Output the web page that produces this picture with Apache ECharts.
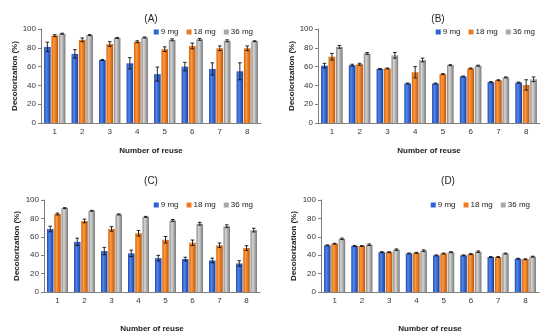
<!DOCTYPE html>
<html><head><meta charset="utf-8">
<script src="https://cdn.jsdelivr.net/npm/echarts@6/dist/echarts.min.js"></script>
<style>html,body{margin:0;padding:0;background:#fff}#c{width:554px;height:334px}</style>
</head><body><div id="c"></div>
<script>
var categories = ['1','2','3','4','5','6','7','8'];
var seriesNames = ['9 mg','18 mg','36 mg'];
var panelTitles = ['(A)','(B)','(C)','(D)'];
var yTicks = [0,20,40,60,80,100];

var A9  = [81,73.5,67,63.5,52,60,57.5,55];
var A9e = [5,4.5,0.5,6,7.5,4.5,6.5,9];
var A18 = [93,88.5,84,86.5,78.5,82,79.5,79.5];
var A18e= [1,2,2.5,1,2.5,3,2.5,2.5];
var A36 = [95,93.5,90.5,91,88.5,89,87.5,87];
var A36e= [0.5,0.5,0.5,0.5,1,1,1,0.5];

var B9  = [61,61.5,57.5,42,42,49.5,43.5,43];
var B9e = [2.5,1,0.5,0.5,0.5,0.5,0.5,0.5];
var B18 = [70.5,62.5,58,54,52,58,45.5,40.5];
var B18e= [3.5,1,0.5,6,0.5,0.5,0.5,5.5];
var B36 = [81,74,72,67,61.5,61,48.5,46.5];
var B36e= [1.5,1,3,2,0.5,0.5,0.5,2.5];

var C9  = [68.5,54.5,44.5,42,36.8,35.8,34.3,31];
var C9e = [3,4,4,3.5,3,2,2.5,3];
var C18 = [84.8,77.2,68.6,63.8,56.8,53.5,50.8,47.8];
var C18e= [1,2,2.5,3,3.5,3,2.5,2.5];
var C36 = [91.2,88.3,84.3,81.7,77.8,74.2,71.5,67.3];
var C36e= [0.5,0.5,0.5,0.5,1,1.5,1.5,2];

var D9  = [50.7,50,43.3,41.9,39.8,39.8,38,36.2];
var D9e = [0.5,0.5,0.5,0.5,0.5,0.5,0.5,0.5];
var D18 = [52.5,50,43.3,42.6,41.8,41.2,38,35.6];
var D18e= [0.5,0.5,0.5,0.5,0.5,0.5,0.5,0.5];
var D36 = [57.8,51.4,46,45,43.3,43.8,41.8,38.4];
var D36e= [0.8,0.8,0.8,0.8,0.5,0.8,0.5,0.5];

var panels = [
  {vals:[A9,A18,A36], errs:[A9e,A18e,A36e]},
  {vals:[B9,B18,B36], errs:[B9e,B18e,B36e]},
  {vals:[C9,C18,C36], errs:[C9e,C18e,C36e]},
  {vals:[D9,D18,D36], errs:[D9e,D18e,D36e]}
];

var grids = [
  {left:41, top:29, width:220, height:94},
  {left:318, top:29, width:222, height:94},
  {left:44, top:200, width:216, height:95},
  {left:321, top:200, width:218, height:95}
];
var titlePos = [[146,9],[433,9],[146,171],[443,171]];
var legendPos = [[296,23],[14,23],[296,196],[19,196]];
var xNameGap = [24,24,33,33];
var yNameGap = [22,22,23,23];

function grad(c0,c1,c2){
  return new echarts.graphic.LinearGradient(0,0,1,0,[
    {offset:0,color:c0},{offset:0.35,color:c1},{offset:1,color:c2}]);
}
var fills = [
  grad('#2048A8','#4F86EE','#1C3F96'),
  grad('#D45E0A','#FF9A3C','#C0560A'),
  grad('#858585','#D6D6D6','#7A7A7A')
];
var legendColors = ['#2F62D4','#F27A1E','#A8A8A8'];

var BW = 0.24, GAP = 0.12;
var option = {
  animation:false,
  backgroundColor:'#fff',
  textStyle:{fontFamily:'Liberation Sans, Arial, sans-serif'},
  title:[], legend:[], grid:[], xAxis:[], yAxis:[], series:[]
};
panels.forEach(function(p, g){
  option.title.push({text:panelTitles[g], left:titlePos[g][0], top:titlePos[g][1],
    textAlign:'center',
    textStyle:{fontSize:10, fontWeight:'normal', color:'#222', fontFamily:'Liberation Sans, Arial, sans-serif'}});
  option.legend.push({data:seriesNames.map(function(n,k){return {name:n, itemStyle:{color:legendColors[k]}};}),
    right:legendPos[g][0], top:legendPos[g][1], width:200, orient:'horizontal',
    icon:'rect', itemWidth:5, itemHeight:5, itemGap:8,
    textStyle:{fontSize:8, color:'#222', padding:[0,0,0,-3]}, selectedMode:false});
  option.grid.push(Object.assign({containLabel:false}, grids[g]));
  option.xAxis.push({type:'category', gridIndex:g, data:categories,
    name:'Number of reuse', nameLocation:'middle', nameGap:xNameGap[g],
    nameTextStyle:{fontSize:8, fontWeight:'bold', color:'#222'},
    axisLine:{lineStyle:{color:'#7f7f7f', width:1}},
    axisTick:{alignWithLabel:true, length:3, lineStyle:{color:'#7f7f7f'}},
    axisLabel:{fontSize:8, color:'#333', margin:5}});
  option.yAxis.push({type:'value', gridIndex:g, min:0, max:100, interval:20,
    name:'Decolorization (%)', nameLocation:'middle', nameGap:yNameGap[g],
    nameTextStyle:{fontSize:8, fontWeight:'bold', color:'#222'},
    axisLine:{show:true, lineStyle:{color:'#7f7f7f', width:1}},
    axisTick:{show:true, length:3, lineStyle:{color:'#7f7f7f'}},
    splitLine:{show:false},
    axisLabel:{fontSize:8, color:'#333', margin:5}});
  p.vals.forEach(function(v, k){
    option.series.push({type:'bar', name:seriesNames[k], xAxisIndex:g, yAxisIndex:g,
      data:v, barWidth:(BW*100)+'%', barGap:(GAP*100)+'%',
      itemStyle:{color:fills[k]}});
  });
  p.vals.forEach(function(v, k){
    var errs = p.errs[k];
    option.series.push({type:'custom', name:'err'+g+'_'+k, xAxisIndex:g, yAxisIndex:g, z:5,
      data:v.map(function(val,i){return [i, val, errs[i]];}),
      renderItem:function(params, api){
        var i = api.value(0), val = api.value(1), e = api.value(2);
        var band = api.size([1,0])[0];
        var off = (k-1)*band*BW*(1+GAP);
        var top = api.coord([i, val+e]), bot = api.coord([i, val-e]);
        var x = top[0]+off, cw = 1.8;
        var st = {stroke:'#111', lineWidth:0.9};
        return {type:'group', children:[
          {type:'line', shape:{x1:x,y1:top[1],x2:x,y2:bot[1]}, style:st},
          {type:'line', shape:{x1:x-cw,y1:top[1],x2:x+cw,y2:top[1]}, style:st},
          {type:'line', shape:{x1:x-cw,y1:bot[1],x2:x+cw,y2:bot[1]}, style:st}
        ]};
      }});
  });
});
var chart = echarts.init(document.getElementById('c'), null, {renderer:'canvas'});
chart.setOption(option);
</script></body></html>
